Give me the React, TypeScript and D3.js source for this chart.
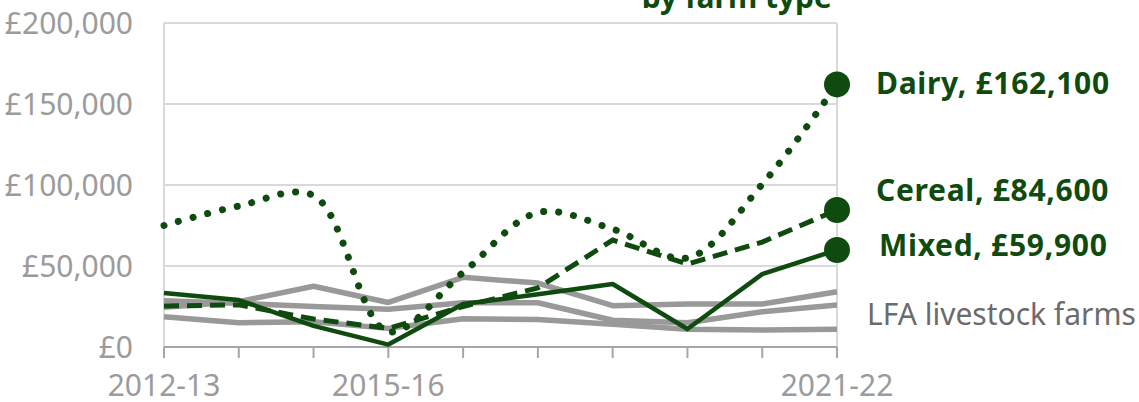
import * as d3 from "d3";

const WIDTH = 1139;
const HEIGHT = 402;
const MARGIN = { top: 23, right: 302, bottom: 55, left: 164 };

const GREEN = "#0f4a0e";
const GREY_LINE = "#999999";
const GRID = "#d9d9d9";
const AXIS = "#a6a6a6";
const LABEL = "#9b9b9b";
const FONT = "'Noto Sans', 'Open Sans', sans-serif";

// financial years on the x axis
const years = [
  "2012-13", "2013-14", "2014-15", "2015-16", "2016-17",
  "2017-18", "2018-19", "2019-20", "2020-21", "2021-22",
];
const shownYears = ["2012-13", "2015-16", "2021-22"];
const yTicks = [0, 50000, 100000, 150000, 200000];

// average farm business income by farm type (£)
const dairy = [75000, 87000, 93500, 9500, 46000, 83000, 72800, 55000, 100500, 162100];
const cereal = [25300, 26000, 17300, 11500, 25000, 36500, 66000, 51200, 64800, 84600];
const mixed = [33300, 29000, 13000, 1500, 26500, 32500, 38900, 11100, 45000, 59900];
// LFA livestock farms (three grey lines)
const lfaA = [24500, 28000, 37500, 27500, 43000, 39500, 25500, 26500, 26500, 34100];
const lfaB = [28600, 27000, 25000, 23300, 27300, 27300, 16500, 15000, 21800, 25900];
const lfaC = [18700, 15000, 15600, 11500, 17500, 17000, 14000, 11000, 10500, 11000];

const endLabels = [
  { text: "Dairy, £162,100", values: dairy, x: 876, y: 94 },
  { text: "Cereal, £84,600", values: cereal, x: 876, y: 201 },
  { text: "Mixed, £59,900", values: mixed, x: 879, y: 256 },
];

const App = () => {
  const boundsWidth = WIDTH - MARGIN.left - MARGIN.right;
  const boundsHeight = HEIGHT - MARGIN.top - MARGIN.bottom;

  const xScale = d3.scalePoint<string>().domain(years).range([0, boundsWidth]);
  const yScale = d3.scaleLinear().domain([0, 200000]).range([boundsHeight, 0]);

  const line = d3
    .line<number>()
    .x((_, i) => xScale(years[i])!)
    .y((d) => yScale(d));
  const smooth = d3
    .line<number>()
    .x((_, i) => xScale(years[i])!)
    .y((d) => yScale(d))
    .curve(d3.curveCatmullRom.alpha(0.5));

  const fmt = (v: number) => "£" + d3.format(",")(v);
  const last = years[years.length - 1];

  return (
    <svg
      width={WIDTH}
      height={HEIGHT}
      style={{ position: "absolute", left: 0, top: 0, fontFamily: FONT }}
    >
      {/* title, cut at the top edge */}
      <text
        x={832}
        y={8}
        textAnchor="end"
        fontSize={30}
        fontWeight="bold"
        fill={GREEN}
      >
        by farm type
      </text>

      <g transform={`translate(${MARGIN.left},${MARGIN.top})`}>
        {/* grid */}
        {yTicks.map((t) => (
          <g key={t}>
            {t > 0 && (
              <line
                x1={0}
                x2={boundsWidth}
                y1={yScale(t)}
                y2={yScale(t)}
                stroke={GRID}
                strokeWidth={2}
              />
            )}
            <text
              x={-31}
              y={yScale(t)}
              dy={10.5}
              textAnchor="end"
              fontSize={30}
              fill={LABEL}
            >
              {fmt(t)}
            </text>
          </g>
        ))}
        <line x1={0} x2={0} y1={0} y2={boundsHeight} stroke={GRID} strokeWidth={2} />
        <line
          x1={boundsWidth}
          x2={boundsWidth}
          y1={0}
          y2={boundsHeight}
          stroke={GRID}
          strokeWidth={2}
        />

        {/* x axis */}
        <line x1={0} x2={boundsWidth} y1={boundsHeight} y2={boundsHeight} stroke={AXIS} strokeWidth={2} />
        {years.map((y) => (
          <line
            key={y}
            x1={xScale(y)}
            x2={xScale(y)}
            y1={boundsHeight}
            y2={boundsHeight + 11}
            stroke={AXIS}
            strokeWidth={2}
          />
        ))}
        {shownYears.map((y) => (
          <text
            key={y}
            x={xScale(y)}
            y={boundsHeight + 49}
            textAnchor="middle"
            fontSize={30}
            fill={LABEL}
          >
            {y}
          </text>
        ))}

        {/* LFA livestock farms */}
        {[lfaA, lfaB, lfaC].map((s, i) => (
          <path
            key={i}
            d={line(s)!}
            fill="none"
            stroke={GREY_LINE}
            strokeWidth={5.5}
            strokeLinejoin="round"
          />
        ))}

        {/* main farm types */}
        <path
          d={line(mixed)!}
          fill="none"
          stroke={GREEN}
          strokeWidth={4.5}
          strokeLinejoin="round"
        />
        <path
          d={line(cereal)!}
          fill="none"
          stroke={GREEN}
          strokeWidth={5}
          strokeDasharray="15 8"
        />
        <path
          d={smooth(dairy)!}
          fill="none"
          stroke={GREEN}
          strokeWidth={7}
          strokeLinecap="round"
          strokeDasharray="0.1 15"
        />

        {endLabels.map((l) => (
          <circle
            key={l.text}
            cx={xScale(last)}
            cy={yScale(l.values[l.values.length - 1])}
            r={13}
            fill={GREEN}
          />
        ))}
      </g>

      {endLabels.map((l) => (
        <text
          key={l.text}
          x={l.x}
          y={l.y}
          fontSize={30}
          fontWeight="bold"
          letterSpacing={0.7}
          fill={GREEN}
        >
          {l.text}
        </text>
      ))}
      <text x={867} y={325} fontSize={30} fill="#6b6b6b">
        LFA livestock farms
      </text>
    </svg>
  );
};

export default App;
